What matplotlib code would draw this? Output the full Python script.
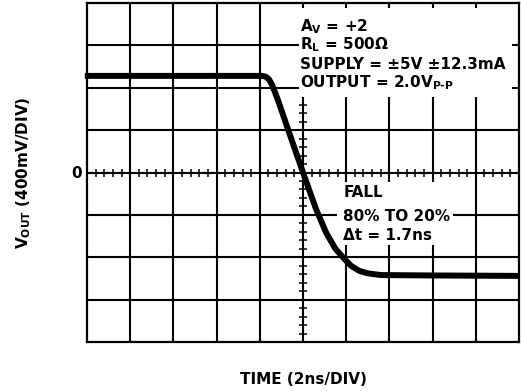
import matplotlib
matplotlib.use('Agg')
import matplotlib.pyplot as plt
from matplotlib.patches import Rectangle

plt.rcParams['font.family'] = ['DejaVu Sans']
plt.rcParams['font.weight'] = 'bold'
plt.rcParams['mathtext.fontset'] = 'custom'
plt.rcParams['mathtext.rm'] = 'DejaVu Sans:bold'
plt.rcParams['mathtext.bf'] = 'DejaVu Sans:bold'
plt.rcParams['mathtext.it'] = 'DejaVu Sans:bold'
plt.rcParams['mathtext.default'] = 'bf'

# Scope trace, in divisions (x: 2ns/div, y: 400mV/div)
t_div = [-5.05, -0.95, -0.86, -0.79, -0.73, -0.67, -0.58, -0.3, 0.0, 0.3,
         0.54, 0.75, 0.95, 1.11, 1.3, 1.5, 1.8, 3.0, 5.0]
v_div = [2.28, 2.28, 2.26, 2.2, 2.1, 1.95, 1.71, 0.88, 0.0, -0.86,
         -1.43, -1.8, -2.03, -2.2, -2.32, -2.38, -2.42, -2.43, -2.44]

x_major = list(range(-5, 6))
y_major = list(range(-4, 5))
minor = [i / 5 for i in range(-25, 26)]

info_lines = [r'A$_{V}$ = +2', r'R$_{L}$ = 500Ω',
              'SUPPLY = ±5V ±12.3mA', r'OUTPUT = 2.0V$_{P\text{-}P}$']
fall_lines = ['FALL', '80% TO 20%', 'Δt = 1.7ns']

fig = plt.figure(figsize=(5.21, 3.91), dpi=100)
ax = fig.add_axes([87 / 521, 49 / 391, 432 / 521, 339 / 391])
ax.set_xlim(-5, 5)
ax.set_ylim(-4, 4)
ax.set_xticks([])
ax.set_yticks([])
for s in ax.spines.values():
    s.set_linewidth(1.6)

gl = dict(color='black', lw=1.5, zorder=1)
for x in x_major[1:-1]:
    ax.axvline(x, **gl)
for y in y_major[1:-1]:
    ax.axhline(y, **gl)

# minor ticks on the centre lines
ax.plot(minor, [0] * len(minor), ls='none', marker='|', ms=5.5, mew=1.1,
        color='black', zorder=1)
ym = [m for m in minor if -4 < m < 4]
ax.plot([0] * len(ym), ym, ls='none', marker='_', ms=5.5, mew=1.1,
        color='black', zorder=1)

# white boxes behind the notes
ax.add_patch(Rectangle((-0.1, 1.78), 4.94, 2.1, fc='white', ec='none', zorder=2))
ax.add_patch(Rectangle((0.79, -1.71), 2.68, 1.49, fc='white', ec='none', zorder=2))

ax.plot(t_div, v_div, color='black', lw=4.3, solid_capstyle='butt',
        solid_joinstyle='round', zorder=4, clip_on=False)

fs = 11
for txt, yb in zip(info_lines, [3.34, 2.9, 2.45, 2.0]):
    ax.text(-0.07, yb, txt, fontsize=fs, fontweight='bold', va='baseline',
            ha='left', zorder=3)
for txt, yb in zip(fall_lines, [-0.58, -1.14, -1.6]):
    ax.text(0.93, yb, txt, fontsize=fs, fontweight='bold', va='baseline',
            ha='left', zorder=3)

fig.text(77 / 521, 1 - 174 / 391, '0', fontsize=fs, fontweight='bold',
         ha='center', va='center')
fig.text(24 / 521, 1 - 173 / 391, r'V$_{OUT}$ (400mV/DIV)', fontsize=fs,
         fontweight='bold', rotation=90, ha='center', va='center')
fig.text(303 / 521, 1 - 379 / 391, 'TIME (2ns/DIV)', fontsize=fs,
         fontweight='bold', ha='center', va='center')

fig.savefig('out.png', dpi=100)
